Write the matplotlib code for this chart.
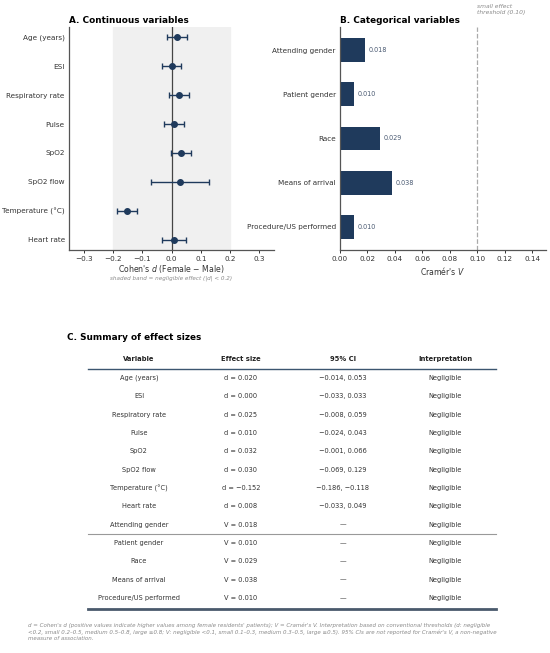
import matplotlib.pyplot as plt
import numpy as np

# ---------------------------------------------------------------------------
# Data
# ---------------------------------------------------------------------------
CONT_VARS = ["Age (years)", "ESI", "Respiratory rate", "Pulse", "SpO2",
             "SpO2 flow", "Temperature (°C)", "Heart rate"]
CONT_D = [0.020, 0.000, 0.025, 0.010, 0.032, 0.030, -0.152, 0.008]
CONT_LO = [-0.014, -0.033, -0.008, -0.024, -0.001, -0.069, -0.186, -0.033]
CONT_HI = [0.053, 0.033, 0.059, 0.043, 0.066, 0.129, -0.118, 0.049]

CAT_VARS = ["Attending gender", "Patient gender", "Race", "Means of arrival",
            "Procedure/US performed"]
CAT_V = [0.018, 0.010, 0.029, 0.038, 0.010]

INTERP = ["Negligible"] * (len(CONT_VARS) + len(CAT_VARS))

NAVY = "#1f3a5c"
GREY_TXT = "#8a8a8a"
TICK_FS = 5.2
LABEL_FS = 5.6
TITLE_FS = 6.4

W, H = 550, 653
fig = plt.figure(figsize=(W / 100, H / 100), dpi=100)


def fx(px):
    return px / W


def fy(py):
    return 1 - py / H


def style_axes(ax):
    for s in ["top", "right"]:
        ax.spines[s].set_visible(False)
    for s in ["left", "bottom"]:
        ax.spines[s].set_color("#555555")
        ax.spines[s].set_linewidth(0.9)
    ax.tick_params(axis="x", labelsize=TICK_FS, colors="#333333", length=2.5,
                   width=0.7, pad=2)
    ax.tick_params(axis="y", labelsize=TICK_FS, colors="#333333", length=0,
                   pad=3)


# ── Panel A: continuous variables ───────────────────────────────────────────
axA = fig.add_axes([fx(69), fy(250), fx(274) - fx(69), fy(27) - fy(250)])
ypos = np.arange(len(CONT_VARS))
d = np.array(CONT_D)
err = np.vstack([d - np.array(CONT_LO), np.array(CONT_HI) - d])
axA.axvspan(-0.2, 0.2, color="#f0f0f0", zorder=0)
axA.axvline(0, color="#444444", lw=0.9, zorder=1)
axA.errorbar(d, ypos, xerr=err, fmt="o", color=NAVY, ms=4, lw=1.0,
             capsize=2.2, capthick=1.0, zorder=3)
axA.set_xlim(-0.35, 0.35)
axA.set_ylim(len(CONT_VARS) - 1 + 0.35, -0.35)
axA.set_yticks(ypos)
axA.set_yticklabels(CONT_VARS)
axA.set_xticks([-0.3, -0.2, -0.1, 0.0, 0.1, 0.2, 0.3])
axA.set_xticklabels(["−0.3", "−0.2", "−0.1", "0.0", "0.1", "0.2", "0.3"])
style_axes(axA)
axA.set_xlabel("Cohen's $d$ (Female − Male)", fontsize=LABEL_FS,
               color="#333333", labelpad=0.5)
axA.text(0.5, -0.113, "shaded band = negligible effect (|d| < 0.2)",
         transform=axA.transAxes, ha="center", va="top", fontsize=4.1,
         style="italic", color=GREY_TXT)
axA.set_title("A. Continuous variables", fontsize=TITLE_FS, fontweight="bold",
              loc="left", pad=3)

# ── Panel B: categorical variables ──────────────────────────────────────────
axB = fig.add_axes([fx(340), fy(250), fx(546) - fx(340), fy(27) - fy(250)])
ypos_b = np.arange(len(CAT_VARS))
axB.barh(ypos_b, CAT_V, height=0.54, color=NAVY, zorder=2)
for y, v in zip(ypos_b, CAT_V):
    axB.text(v + 0.0025, y, f"{v:.3f}", va="center", ha="left", fontsize=4.7,
             color="#4a5a72")
axB.axvline(0.10, color="#aaaaaa", lw=0.9, ls="--", zorder=1)
axB.text(0.10, 1.105, "small effect\nthreshold (0.10)",
         transform=axB.get_xaxis_transform(), ha="left", va="top",
         fontsize=4.3, style="italic", color=GREY_TXT, linespacing=1.35)
axB.set_xlim(0, 0.15)
axB.set_ylim(len(CAT_VARS) - 1 + 0.52, -0.52)
axB.set_yticks(ypos_b)
axB.set_yticklabels(CAT_VARS)
xt = np.arange(0, 0.141, 0.02)
axB.set_xticks(xt)
axB.set_xticklabels([f"{t:.2f}" for t in xt])
style_axes(axB)
axB.set_xlabel("Cramér's $V$", fontsize=LABEL_FS, color="#333333",
               labelpad=2)
axB.set_title("B. Categorical variables", fontsize=TITLE_FS, fontweight="bold",
              loc="left", pad=3)

# ── Panel C: summary table ─────────────────────────────────────────────────
axC = fig.add_axes([0, 0, 1, 1])
axC.set_xlim(0, W)
axC.set_ylim(H, 0)
axC.axis("off")

axC.text(67, 337, "C. Summary of effect sizes", fontsize=TITLE_FS,
         fontweight="bold", ha="left", va="center")

col_x = [139, 241, 343, 445]
headers = ["Variable", "Effect size", "95% CI", "Interpretation"]
for x, h in zip(col_x, headers):
    axC.text(x, 359, h, ha="center", va="center", fontsize=4.9,
             fontweight="bold", color="#222222")

rows = []
for name, v, lo, hi in zip(CONT_VARS, CONT_D, CONT_LO, CONT_HI):
    rows.append([name, f"d = {v:.3f}".replace("-", "−"),
                 f"{lo:.3f}, {hi:.3f}".replace("-", "−")])
for name, v in zip(CAT_VARS, CAT_V):
    rows.append([name, f"V = {v:.3f}", "—"])

row0, step = 378, 18.33
for i, (r, interp) in enumerate(zip(rows, INTERP)):
    y = row0 + i * step
    for x, t in zip(col_x, r + [interp]):
        axC.text(x, y, t, ha="center", va="center", fontsize=4.8,
                 color="#333333")

x0, x1 = 88, 496
axC.plot([x0, x1], [369, 369], color="#3c5670", lw=1.0)
y_sep = row0 + (len(CONT_VARS) + 0.5) * step
axC.plot([x0, x1], [y_sep, y_sep], color="#999999", lw=0.8)
y_bot = row0 + (len(rows) - 0.4) * step
axC.plot([x0, x1], [y_bot, y_bot], color="#4a5a6c", lw=2.0)

footnote = (
    "d = Cohen's d (positive values indicate higher values among female residents' patients); "
    "V = Cramér's V. Interpretation based on conventional thresholds (d: negligible\n"
    "<0.2, small 0.2–0.5, medium 0.5–0.8, large ≥0.8; V: negligible <0.1, small 0.1–0.3, "
    "medium 0.3–0.5, large ≥0.5). 95% CIs are not reported for Cramér's V, a non-negative\n"
    "measure of association."
)
axC.text(28, 623, footnote, ha="left", va="top", fontsize=3.95,
         style="italic", color=GREY_TXT, linespacing=1.25)

fig.savefig("out.png", dpi=100)
